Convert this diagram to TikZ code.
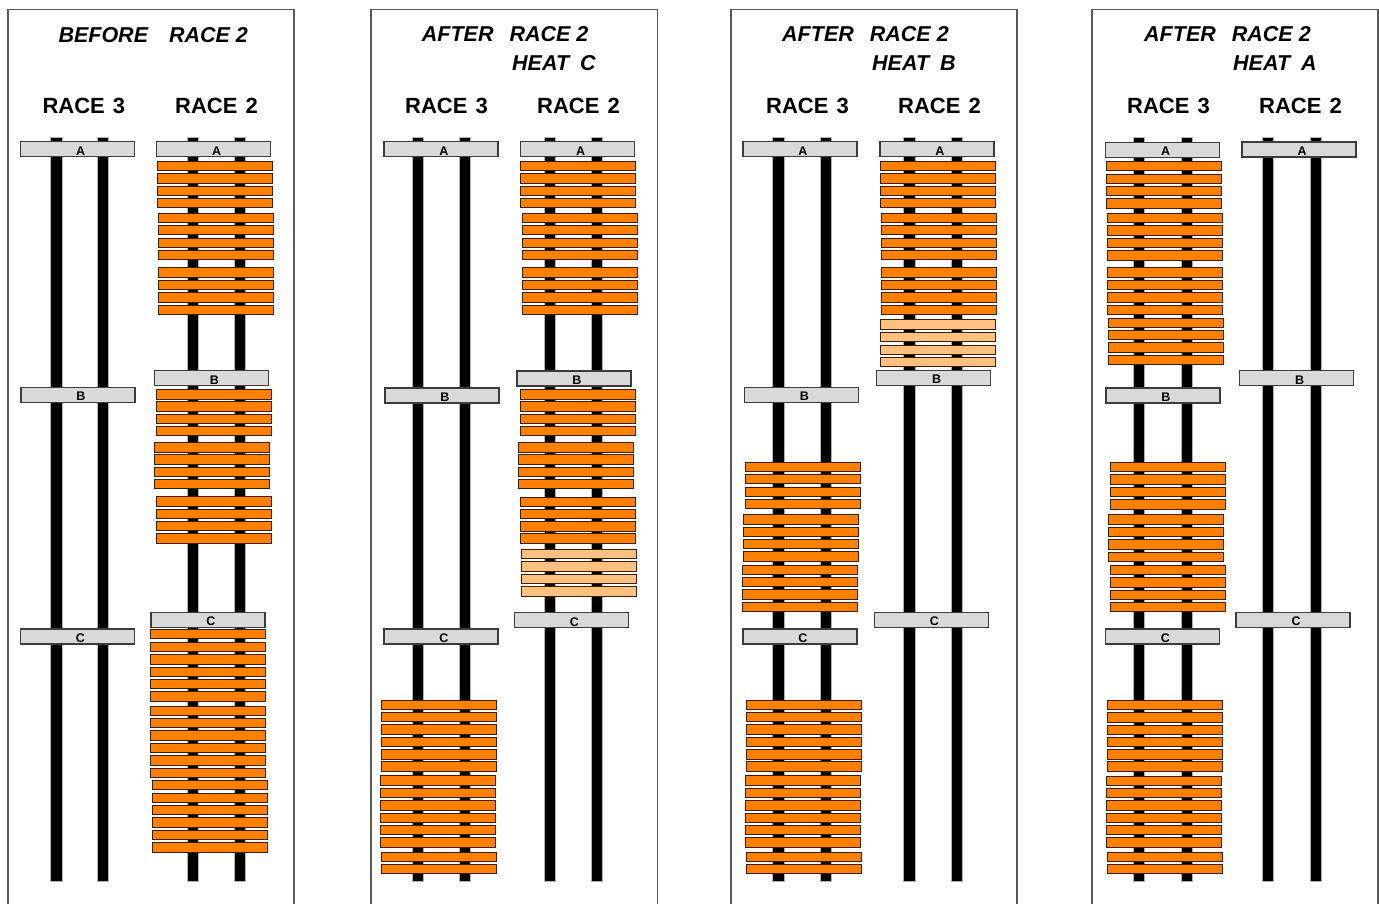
\documentclass[tikz,border=0pt]{standalone}
\usepackage{fontspec}
\setmainfont{Liberation Sans}
\definecolor{orng}{RGB}{255,128,0}
\definecolor{lorng}{RGB}{255,192,128}
\definecolor{barline}{RGB}{60,30,5}
\definecolor{lgray}{RGB}{217,217,217}
\definecolor{dgray}{RGB}{60,60,60}
\definecolor{pgray}{RGB}{90,90,90}
\newcommand\rodat[1]{\draw[rod] (#1-5.75,137) rectangle (#1+5.75,881);}
\newcommand\oset[3]{\foreach \yy in {#3} {\draw[#1] (#2,\yy+0.3) rectangle ++(115,9.6);}}
\newcommand\mklbl[4]{\draw[lbar] (#2,#3) rectangle ++(114,15);
  \node[lbltxt] (#1) at (#2+60,#3+13.4) {#4};}
\begin{document}
\begin{tikzpicture}[x=1pt,y=-1pt,
  rod/.style={fill=black,draw=gray!60,line width=0.6pt},
  obar/.style={fill=orng,draw=barline,line width=0.9pt},
  lobar/.style={fill=lorng,draw=barline,line width=0.9pt},
  lbar/.style={fill=lgray,draw=dgray,line width=1.2pt},
  lbltxt/.style={anchor=base,inner sep=0pt,font=\fontsize{12.5}{12.5}\selectfont\bfseries},
  ttl/.style={anchor=base west,inner sep=0pt,font=\fontsize{21.5}{21.5}\selectfont\bfseries\itshape},
  rlab/.style={anchor=base west,inner sep=0pt,font=\fontsize{22}{22}\selectfont\bfseries},
  panel/.style={draw=pgray,line width=1.3pt}]
\useasboundingbox (0,0) rectangle (1379,904);
\fill[white] (0,0) rectangle (1379,904);
% panel frames
\draw[panel] (8,905) -- (8,9.5) -- (294,9.5) -- (294,905);
\draw[panel] (371,905) -- (371,9.5) -- (657.5,9.5) -- (657.5,905);
\draw[panel] (731,905) -- (731,9.5) -- (1017,9.5) -- (1017,905);
\draw[panel] (1092,905) -- (1092,9.5) -- (1378,9.5) -- (1378,905);
% titles
\node[ttl] (t1) at (58.3,43) {BEFORE\hspace{21pt}RACE 2};
\node[ttl] (t2) at (421.7,42) {AFTER\hspace{16pt}RACE 2};
\node[ttl] (t2b) at (512,71) {HEAT\hspace{11pt}C};
\node[ttl] (t3) at (782,42) {AFTER\hspace{16pt}RACE 2};
\node[ttl] (t3b) at (872,71) {HEAT\hspace{11pt}B};
\node[ttl] (t4) at (1144,42) {AFTER\hspace{16pt}RACE 2};
\node[ttl] (t4b) at (1233,71) {HEAT\hspace{11pt}A};
% race labels
\node[rlab] (r13) at (42.3,113.5) {RACE\hspace{8pt}3};
\node[rlab] (r12) at (175,113.5) {RACE\hspace{8pt}2};
\node[rlab] (r23) at (405,113.5) {RACE\hspace{8pt}3};
\node[rlab] (r22) at (537,113.5) {RACE\hspace{8pt}2};
\node[rlab] (r33) at (766,113.5) {RACE\hspace{8pt}3};
\node[rlab] (r32) at (898,113.5) {RACE\hspace{8pt}2};
\node[rlab] (r43) at (1127,113.5) {RACE\hspace{8pt}3};
\node[rlab] (r42) at (1259,113.5) {RACE\hspace{8pt}2};
% rods
\rodat{56.5}\rodat{103}\rodat{193}\rodat{240}
\rodat{418}\rodat{465}\rodat{549.7}\rodat{597}
\rodat{778.5}\rodat{825.7}\rodat{909.3}\rodat{956.7}
\rodat{1139}\rodat{1186.7}\rodat{1268}\rodat{1315.7}
% ---------- panel 1 ----------
\mklbl{p1a3}{20.7}{141.7}{A}
\mklbl{p1a2}{156.7}{141.7}{A}
\mklbl{p1b3}{21}{387.3}{B}
\mklbl{p1b2}{154.3}{370.7}{B}
\mklbl{p1c3}{20.3}{629}{C}
\mklbl{p1c2}{151}{612.3}{C}
\oset{obar}{157}{161,173.3,185.7,198}
\oset{obar}{158.7}{212.7,225,237.7,250,267.3,280,292.3,304.7}
\oset{obar}{156.3}{389.3,401.3,414,426}
\oset{obar}{154.3}{442.3,454.3,466.7,478.7}
\oset{obar}{156.3}{496.3,508.7,521,533.3}
\oset{obar}{150.3}{629,641.7,654.3,666.7,679,691.3,705.7,718,730.3,743,755.3,768}
\oset{obar}{152.3}{780,792.7,805,817.3,830,842.3}
% ---------- panel 2 ----------
\mklbl{p2a3}{384}{141.7}{A}
\mklbl{p2a2}{520.7}{141.7}{A}
\mklbl{p2b3}{385}{388}{B}
\mklbl{p2b2}{517}{371}{B}
\mklbl{p2c3}{384}{629}{C}
\mklbl{p2c2}{514.3}{612.7}{C}
\oset{obar}{520.5}{161,173.3,185.7,198}
\oset{obar}{522}{212.7,225,237.7,250,267.3,280,292.3,304.7}
\oset{obar}{520}{389.3,401.3,414,426}
\oset{obar}{518}{442.3,454.3,466.7,478.7}
\oset{obar}{520}{496.7,509,521.3,533.3}
\oset{lobar}{521.3}{549,561.3,574,586.3}
\oset{obar}{381.3}{700,712,724.3,737,749.3,761.3}
\oset{obar}{380.3}{775.3,788,800.3,812.7,825,837.3}
\oset{obar}{381.3}{851.7,863.7}
% ---------- panel 3 ----------
\mklbl{p3a3}{743}{141.7}{A}
\mklbl{p3a2}{880}{141.7}{A}
\mklbl{p3b3}{744.3}{387.3}{B}
\mklbl{p3b2}{876.7}{370.3}{B}
\mklbl{p3c3}{743}{629}{C}
\mklbl{p3c2}{874.3}{612.3}{C}
\oset{obar}{880}{161,173.3,185.7,198}
\oset{obar}{881.5}{212.7,225,237.7,250,267.3,280,292.3,304.7}
\oset{lobar}{880}{319.3,332,344.7,357}
\oset{obar}{745}{461.7,474,486.7,499}
\oset{obar}{743}{514.3,526.7,539,551.3}
\oset{obar}{742.3}{564.7,576.7,589.3,601.7}
\oset{obar}{746.8}{700,712,724.3,737,749.3,761.3}
\oset{obar}{745.5}{775.3,788,800.3,812.7,825,837.3}
\oset{obar}{746.8}{851.7,863.7}
% ---------- panel 4 ----------
\mklbl{p4a3}{1105.7}{142.3}{A}
\mklbl{p4a2}{1242}{142}{A}
\mklbl{p4b3}{1106}{388}{B}
\mklbl{p4b2}{1239.7}{370.7}{B}
\mklbl{p4c3}{1105.3}{629}{C}
\mklbl{p4c2}{1236}{612.3}{C}
\oset{obar}{1106.3}{161,173.7,186,198.3}
\oset{obar}{1107.7}{212.7,225.3,237.7,250.3,267.3,280,292.3,305}
\oset{obar}{1108.7}{318,330,342.3,355}
\oset{obar}{1110.3}{462,474.3,486.7,499.3}
\oset{obar}{1108.7}{514.3,527,539.3,551.7}
\oset{obar}{1110}{565,577.3,589.7,602}
\oset{obar}{1107.3}{700,712.3,724.7,737,749.3,761.3}
\oset{obar}{1106}{775.7,788,800.3,812.7,825,837.3}
\oset{obar}{1107.3}{851.7,863.7}
\end{tikzpicture}
\end{document}
